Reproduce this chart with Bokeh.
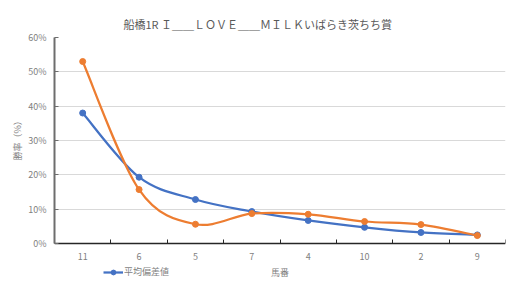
from bokeh.plotting import figure
from bokeh.models import (ColumnDataSource, FixedTicker, PrintfTickFormatter,
                          Range1d, Legend, LegendItem, Title)
from bokeh.embed import file_html
from bokeh.resources import INLINE

# ---- data ----
horses = ["11", "6", "5", "7", "4", "10", "2", "9"]
avg_dev = [38.0, 19.3, 12.8, 9.3, 6.7, 4.7, 3.2, 2.5]      # 平均偏差値 (blue)
win_rate = [53.0, 15.7, 5.6, 8.7, 8.5, 6.4, 5.5, 2.3]      # second series (orange)
y_ticks = [0, 10, 20, 30, 40, 50, 60]

title_text = "船橋1R Ｉ＿＿ＬＯＶＥ＿＿ＭＩＬＫいばらき茨ちち賞"
y_label = "勝率（%）"
x_label = "馬番"
legend_label = "平均偏差値"
FONT = "Noto Sans CJK JP"
BLUE = "#4472C4"
ORANGE = "#ED7D31"
GRAY_TXT = "#7f7f7f"

xs = [i + 0.5 for i in range(len(horses))]


def bezier_source(x, y):
    n = len(x)
    d = dict(x0=[], y0=[], x1=[], y1=[], cx0=[], cy0=[], cx1=[], cy1=[])
    for i in range(n - 1):
        p0 = i - 1 if i > 0 else i
        p3 = i + 2 if i + 2 < n else i + 1
        d["x0"].append(x[i]); d["y0"].append(y[i])
        d["x1"].append(x[i + 1]); d["y1"].append(y[i + 1])
        d["cx0"].append(x[i] + (x[i + 1] - x[p0]) / 6)
        d["cy0"].append(y[i] + (y[i + 1] - y[p0]) / 6)
        d["cx1"].append(x[i + 1] - (x[p3] - x[i]) / 6)
        d["cy1"].append(y[i + 1] - (y[p3] - y[i]) / 6)
    return ColumnDataSource(d)


# frame extends below 0 so that the legend row fits inside it
p = figure(width=517, height=297, output_backend="svg", toolbar_location=None,
           x_range=Range1d(0, len(horses)), y_range=Range1d(-13.7, 60),
           min_border_left=54, min_border_right=12, min_border_top=37,
           min_border_bottom=7)
p.outline_line_color = None
p.background_fill_color = "white"
p.border_fill_color = "white"

# title
p.title.text = title_text
p.title.text_font = FONT
p.title.text_font_size = "11px"
p.title.text_font_style = "normal"
p.title.text_color = "#595959"
p.title.align = "left"
p.title.offset = 69
p.title.vertical_align = "middle"

# grid
p.xgrid.visible = False
p.ygrid.ticker = FixedTicker(ticks=y_ticks[1:])
p.ygrid.grid_line_color = "#d9d9d9"
p.ygrid.grid_line_width = 1

# y axis
ya = p.yaxis[0]
ya.ticker = FixedTicker(ticks=y_ticks)
ya.bounds = (0, 60)
ya.formatter = PrintfTickFormatter(format="%d%%")
ya.axis_line_color = "#6d6d6d"
ya.axis_line_width = 2
ya.major_tick_in = 4
ya.major_tick_out = 0
ya.major_tick_line_color = "#6d6d6d"
ya.minor_tick_line_color = None
ya.major_label_text_font = FONT
ya.major_label_text_font_size = "9px"
ya.major_label_text_color = GRAY_TXT
ya.major_label_standoff = 8

# y axis title (centred on the 0-60% span, not on the whole frame)
ytitle = Title(text=y_label, align="left", offset=130, text_font=FONT,
               text_font_size="9px", text_font_style="normal",
               text_color=GRAY_TXT, standoff=4)
p.add_layout(ytitle, "left")

# x axis, pinned at y = 0
xa = p.xaxis[0]
xa.fixed_location = 0
xa.ticker = FixedTicker(ticks=xs, minor_ticks=list(range(len(horses) + 1)))
xa.major_label_overrides = {x: h for x, h in zip(xs, horses)}
xa.axis_line_color = "#262626"
xa.axis_line_width = 1.5
xa.major_tick_line_color = None
xa.minor_tick_in = 4
xa.minor_tick_out = 0
xa.minor_tick_line_color = "#262626"
xa.major_label_text_font = FONT
xa.major_label_text_font_size = "9px"
xa.major_label_text_color = GRAY_TXT
xa.major_label_standoff = 4
xa.axis_label = x_label
xa.axis_label_text_font = FONT
xa.axis_label_text_font_size = "9px"
xa.axis_label_text_font_style = "normal"
xa.axis_label_text_color = GRAY_TXT
xa.axis_label_standoff = 2

# series
p.bezier(x0="x0", y0="y0", x1="x1", y1="y1", cx0="cx0", cy0="cy0",
         cx1="cx1", cy1="cy1", source=bezier_source(xs, avg_dev),
         line_color=BLUE, line_width=2.25)
blue_pts = p.scatter(xs, avg_dev, size=6, fill_color=BLUE, line_color=BLUE)
p.bezier(x0="x0", y0="y0", x1="x1", y1="y1", cx0="cx0", cy0="cy0",
         cx1="cx1", cy1="cy1", source=bezier_source(xs, win_rate),
         line_color=ORANGE, line_width=2.25)
p.scatter(xs, win_rate, size=6, fill_color=ORANGE, line_color=ORANGE)

# legend proxy (line glyph for the legend swatch, draws nothing on the plot)
proxy = p.line(x=[float("nan")], y=[float("nan")], line_color=BLUE, line_width=2.25)
legend = Legend(items=[LegendItem(label=legend_label, renderers=[proxy, blue_pts])],
                location=(49, 12), border_line_color=None,
                background_fill_alpha=0, padding=0, margin=0,
                glyph_width=20, glyph_height=12, label_standoff=1,
                label_text_font=FONT, label_text_font_size="9px",
                label_text_color=GRAY_TXT, label_height=12)
p.add_layout(legend, "center")

open("out.html", "w").write(file_html(p, INLINE))
